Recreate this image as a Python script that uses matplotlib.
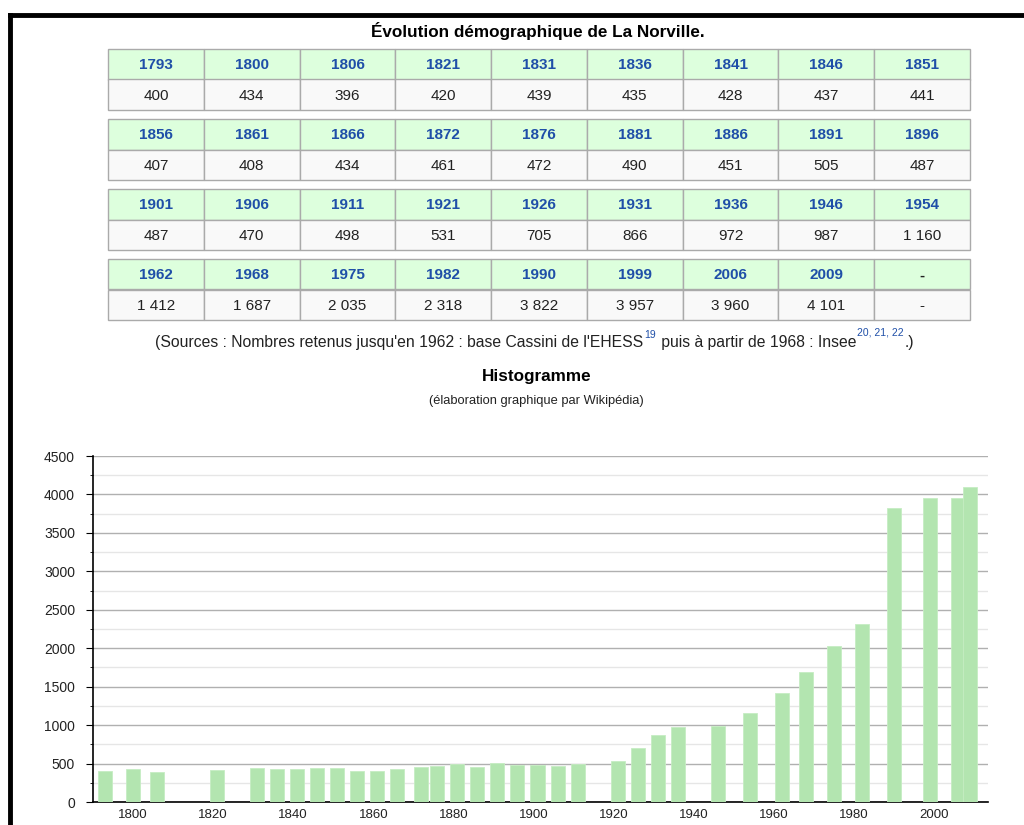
import matplotlib
matplotlib.use("Agg")
from matplotlib import pyplot as plt
from matplotlib.patches import Rectangle
from matplotlib.lines import Line2D
from matplotlib.ticker import MultipleLocator

plt.rcParams['font.family'] = ['Liberation Sans', 'DejaVu Sans']

# population data (La Norville)
years = [1793, 1800, 1806, 1821, 1831, 1836, 1841, 1846, 1851,
         1856, 1861, 1866, 1872, 1876, 1881, 1886, 1891, 1896,
         1901, 1906, 1911, 1921, 1926, 1931, 1936, 1946, 1954,
         1962, 1968, 1975, 1982, 1990, 1999, 2006, 2009]
population = [400, 434, 396, 420, 439, 435, 428, 437, 441,
              407, 408, 434, 461, 472, 490, 451, 505, 487,
              487, 470, 498, 531, 705, 866, 972, 987, 1160,
              1412, 1687, 2035, 2318, 3822, 3957, 3960, 4101]
x_ticks = [1800, 1820, 1840, 1860, 1880, 1900, 1920, 1940, 1960, 1980, 2000]


def fmt(v):
    return "{:,}".format(v).replace(",", " ")


W, H = 1024, 825
fig = plt.figure(figsize=(W / 100, H / 100), dpi=100)


def fx(px):
    return px / W


def fy(py):
    return 1 - py / H


# black frame on top and left
fig.add_artist(Line2D([fx(10), fx(1024)], [fy(15), fy(15)], color='black', lw=3.5))
fig.add_artist(Line2D([fx(10), fx(10)], [fy(15), fy(825)], color='black', lw=3.5))

fig.text(fx(538), fy(31), "Évolution démographique de La Norville.",
         ha='center', va='center', fontsize=12.3, fontweight='bold')

# table: 4 blocks of 9 columns
left, right = 108, 970
ncol = 9
cw = (right - left) / ncol
block_tops = [49, 119, 189, 259]
rh = 30.5
cells_years = [str(y) for y in years] + ['-']
cells_pop = [fmt(p) for p in population] + ['-']
for b, top in enumerate(block_tops):
    for c in range(ncol):
        i = b * ncol + c
        x0 = left + c * cw
        fig.add_artist(Rectangle((fx(x0), fy(top + rh)), cw / W, rh / H,
                                 facecolor='#ddffdd', edgecolor='#aaaaaa', lw=1))
        fig.add_artist(Rectangle((fx(x0), fy(top + 2 * rh)), cw / W, rh / H,
                                 facecolor='#f9f9f9', edgecolor='#aaaaaa', lw=1))
        ycol = '#1f4fa8' if cells_years[i] != '-' else '#222222'
        fig.text(fx(x0 + cw / 2), fy(top + rh / 2 + 1), cells_years[i],
                 ha='center', va='center', fontsize=11, fontweight='bold', color=ycol)
        fig.text(fx(x0 + cw / 2), fy(top + rh * 1.5 + 1), cells_pop[i],
                 ha='center', va='center', fontsize=11, color='#222222')

# sources line with superscripts, pieces chained one after the other
pieces = [
    ("(Sources : Nombres retenus jusqu'en 1962 : base Cassini de l'EHESS", 11.3, '#222222', 0),
    ("19", 7.5, '#1f4fa8', -8),
    (" puis à partir de 1968 : Insee", 11.3, '#222222', 0),
    ("20, 21, 22", 7.5, '#1f4fa8', -10),
    (".)", 11.3, '#222222', 0),
]
renderer = fig.canvas.get_renderer()
xpos = 155
for txt, size, col, dy in pieces:
    t = fig.text(fx(xpos), fy(343 + dy), txt, ha='left', va='center',
                 fontsize=size, color=col)
    bb = t.get_window_extent(renderer)
    xpos += bb.width + 1

fig.text(fx(537), fy(376), "Histogramme", ha='center', va='center',
         fontsize=12.3, fontweight='bold')
fig.text(fx(536), fy(401), "(élaboration graphique par Wikipédia)", ha='center',
         va='center', fontsize=9.3, color='#222222')

# histogram
ax = fig.add_axes([fx(93), fy(802), (988 - 93) / W, (802 - 456) / H])
ax.bar(years, population, width=3.5, color='#b3e5b0', edgecolor='#c6edc3',
       linewidth=0.6, zorder=3)
ax.set_xlim(1790, 2013.5)
ax.set_ylim(0, 4500)
ax.yaxis.set_major_locator(MultipleLocator(500))
ax.yaxis.set_minor_locator(MultipleLocator(250))
ax.set_xticks(x_ticks)
ax.grid(True, which='major', axis='y', color='#b0b0b0', lw=1, zorder=0)
ax.grid(True, which='minor', axis='y', color='#e6e6e6', lw=1, zorder=0)
for s in ['top', 'right']:
    ax.spines[s].set_visible(False)
ax.spines['left'].set_linewidth(1.2)
ax.spines['bottom'].set_linewidth(1.2)
ax.tick_params(axis='x', length=0, labelsize=9.5, colors='#222222', pad=5)
ax.tick_params(axis='y', which='major', length=5, labelsize=10, labelcolor='#222222', pad=8)
ax.tick_params(axis='y', which='minor', length=2.5)

fig.savefig("out.png", dpi=100)
